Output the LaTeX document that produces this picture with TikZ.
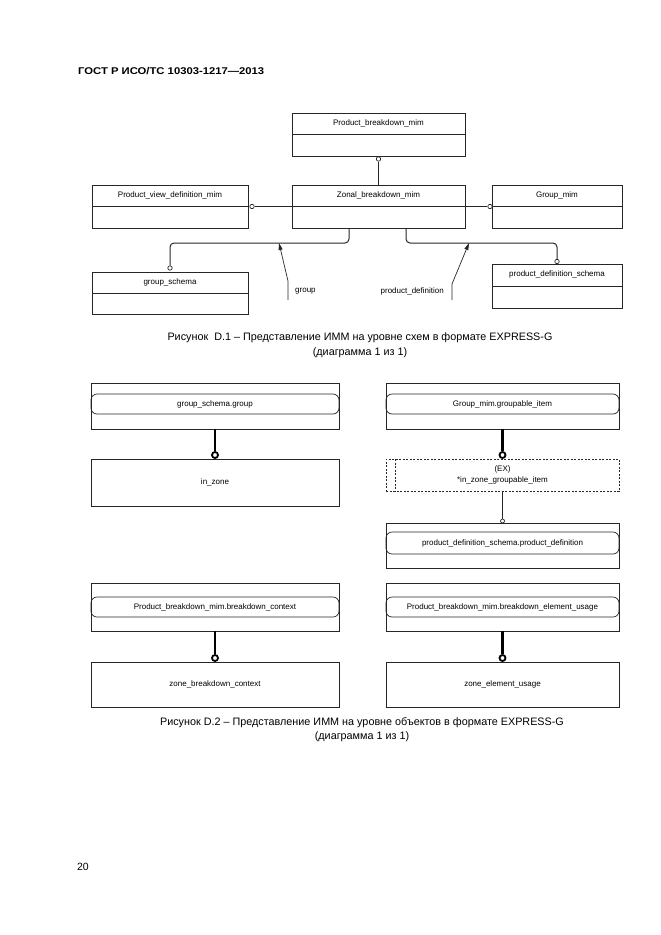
\documentclass[tikz,border=0pt]{standalone}
\usepackage{fontspec}
\setmainfont{Liberation Sans}
\usetikzlibrary{arrows.meta,calc}
\begin{document}
\begin{tikzpicture}[x=1pt,y=-1pt,
  ent/.style={draw=black!85, line width=0.7pt, inner sep=0pt, rectangle},
  dent/.style={draw=black!85, line width=0.7pt, inner sep=0pt, rectangle, dash pattern=on 2pt off 1.5pt},
  lbl/.style={font=\fontsize{8}{10}\selectfont, inner sep=0pt, align=center},
  ocirc/.style={circle, draw=black!85, fill=white, inner sep=0pt, minimum size=4.4pt, line width=0.7pt},
  bcirc/.style={circle, draw=black, fill=white, inner sep=0pt, minimum size=6pt, line width=1.8pt},
  ln/.style={draw=black!85, line width=0.7pt},
  bln/.style={draw=black, line width=2.6pt},
  stad/.style={draw=black!85, rounded corners=6pt, inner sep=0pt, line width=0.7pt, font=\fontsize{8}{10}\selectfont},
  captxt/.style={font=\fontsize{10.8}{14.5}\selectfont, align=center, inner sep=0pt},
]
\useasboundingbox (0,0) rectangle (661,935);
\node[anchor=west, inner sep=0pt, font=\bfseries\fontsize{9.8}{11}\selectfont] (hdr) at (78,71) {\scalebox{1.15}[1]{ГОСТ Р ИСО/ТС 10303-1217—2013}};

% ---------- Figure D.1 ----------
\node[ent, minimum width=173pt, minimum height=43pt] (pbm) at (378.5,134.5) {};
\node[ent, minimum width=173pt, minimum height=43pt] (zbm) at (378.5,206.5) {};
\node[ent, minimum width=156pt, minimum height=43pt] (pvd) at (170,206.5) {};
\node[ent, minimum width=130pt, minimum height=43pt] (gm) at (557,206.5) {};
\node[ent, minimum width=156pt, minimum height=42pt] (gs) at (170,293) {};
\node[ent, minimum width=130pt, minimum height=44pt] (pds) at (557,286) {};
\foreach \b in {pbm,zbm,pvd,gm,gs,pds} {\draw[ln] (\b.west) -- (\b.east);}
\node[lbl] (tpbm) at ($(pbm.center)+(0,-11)$) {Product\_breakdown\_mim};
\node[lbl] (tzbm) at ($(zbm.center)+(0,-11)$) {Zonal\_breakdown\_mim};
\node[lbl] (tpvd) at ($(pvd.center)+(0,-11)$) {Product\_view\_definition\_mim};
\node[lbl] (tgm) at ($(gm.center)+(0,-11)$) {Group\_mim};
\node[lbl] (tgs) at ($(gs.center)+(0,-11)$) {group\_schema};
\node[lbl] (tpds) at ($(pds.center)+(0,-12)$) {product\_definition\_schema};

\node[ocirc] (c1) at (378.5,159) {};
\draw[ln] (zbm.north) -- (c1);
\node[ocirc] (c2) at (252,206.5) {};
\draw[ln] (zbm.west) -- (c2);
\node[ocirc] (c3) at (490,206.5) {};
\draw[ln] (zbm.east) -- (c3);
\node[ocirc] (c4) at (170,268) {};
\node[ocirc] (c5) at (557,261.5) {};
\coordinate (zl) at (349,228);
\coordinate (zr) at (406,228);
\draw[ln, line width=1pt, rounded corners=4pt] (zl) -- ++(0,15) -| (c4);
\draw[ln, line width=1pt, rounded corners=4pt] (zr) -- ++(0,15) -| (c5);
\coordinate (g0) at (288,300);
\coordinate (g1) at (288,281);
\coordinate (g2) at (279,243);
\draw[ln, -{Triangle[length=7pt,width=4pt]}] (g0) -- (g1) -- (g2);
\coordinate (p0) at (452,300);
\coordinate (p1) at (452,284);
\coordinate (p2) at (469,243);
\draw[ln, -{Triangle[length=7pt,width=4pt]}] (p0) -- (p1) -- (p2);
\node[lbl, anchor=west] (tg) at (295,291) {group};
\node[lbl, anchor=east] (tp) at (444,291) {product\_definition};

\node[captxt] (cap1) at (360,345) {Рисунок\ \ D.1 – Представление ИММ на уровне схем в формате EXPRESS-G\\(диаграмма 1 из 1)};

% ---------- Figure D.2 ----------
% left column
\node[ent, minimum width=248pt, minimum height=46pt] (a1) at (215,406) {};
\node[stad, minimum width=248pt, minimum height=20pt] (s1) at (215,404) {group\_schema.group};
\node[bcirc] (k1) at (215,455) {};
\draw[bln] (a1.south) -- (k1.north);
\node[ent, minimum width=248pt, minimum height=47pt, font=\fontsize{8}{10}\selectfont] (b1) at (215,482.5) {in\_zone};

\node[ent, minimum width=248pt, minimum height=48pt] (a3) at (215,607) {};
\node[stad, minimum width=248pt, minimum height=20pt] (s3) at (215,607) {Product\_breakdown\_mim.breakdown\_context};
\node[bcirc] (k3) at (215,658) {};
\draw[bln] (a3.south) -- (k3.north);
\node[ent, minimum width=248pt, minimum height=45pt, font=\fontsize{8}{10}\selectfont] (b3) at (215,684.5) {zone\_breakdown\_context};

% right column
\node[ent, minimum width=233pt, minimum height=46pt] (a2) at (502.5,406) {};
\node[stad, minimum width=233pt, minimum height=20pt] (s2) at (502.5,404) {Group\_mim.groupable\_item};
\node[bcirc] (k2) at (502.5,455) {};
\draw[bln] (a2.south) -- (k2.north);
\node[dent, minimum width=233pt, minimum height=32pt] (d2) at (502.5,475) {};
\draw[ln, dash pattern=on 2pt off 1.5pt] (395,459) -- (395,491);
\node[lbl, font=\fontsize{8}{11}\selectfont] (td2) at (502.5,474.5) {(EX)\\*in\_zone\_groupable\_item};
\node[ocirc, minimum size=4pt] (k2b) at (502.5,521) {};
\draw[ln] (d2.south) -- (k2b);
\node[ent, minimum width=233pt, minimum height=45pt] (c2b) at (502.5,545.5) {};
\node[stad, minimum width=233pt, minimum height=22pt] (s2b) at (502.5,543) {product\_definition\_schema.product\_definition};

\node[ent, minimum width=233pt, minimum height=48pt] (a4) at (502.5,607) {};
\node[stad, minimum width=233pt, minimum height=20pt] (s4) at (502.5,607) {Product\_breakdown\_mim.breakdown\_element\_usage};
\node[bcirc] (k4) at (502.5,658) {};
\draw[bln] (a4.south) -- (k4.north);
\node[ent, minimum width=233pt, minimum height=45pt, font=\fontsize{8}{10}\selectfont] (b4) at (502.5,684.5) {zone\_element\_usage};

\node[captxt] (cap2) at (362,729.5) {Рисунок D.2 – Представление ИММ на уровне объектов в формате EXPRESS-G\\(диаграмма 1 из 1)};

\node[inner sep=0pt, font=\fontsize{10.5}{12}\selectfont] (pg) at (83,867) {20};
\end{tikzpicture}
\end{document}
